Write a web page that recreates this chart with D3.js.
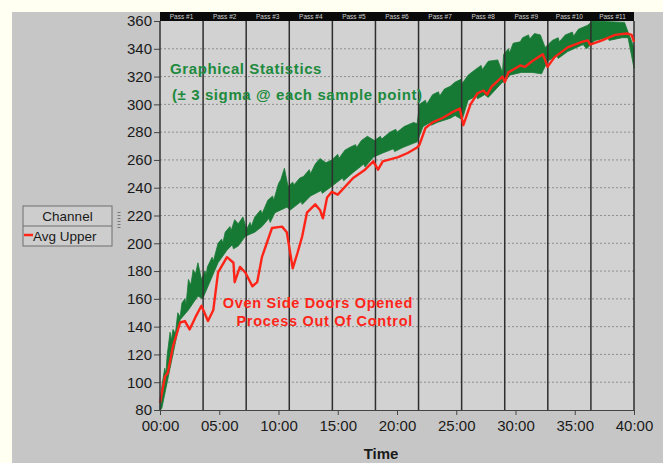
<!DOCTYPE html>
<html lang="en">
	<head>
		<meta charset="utf-8">
		<title>Graphical Statistics</title>
		<script src="https://cdnjs.cloudflare.com/ajax/libs/d3/7.8.5/d3.min.js"></script>
		<style type="text/css">
			body { margin: 0; background: #fffff2; }
			text { font-family: Arial, "Liberation Sans", sans-serif; }
			g.y text, g.x text { font-size: 15px; fill: #1a1a1a; }
			g.y path.domain { display: none; }
		</style>
	</head>
	<body>
		<div id="chart"></div>
		<script type="text/javascript">

			// pass labels along the top band
			const passLabels = ["Pass #1","Pass #2","Pass #3","Pass #4","Pass #5","Pass #6",
				"Pass #7","Pass #8","Pass #9","Pass #10","Pass #11"];

			const yTicks = [80,100,120,140,160,180,200,220,240,260,280,300,320,340,360];
			const xTicks = [0,5,10,15,20,25,30,35,40];

			// +3 sigma edge of the green band (minutes, value)
			const upperTime = [0,0.15,0.4,0.5,0.6,0.85,0.95,1.1,1.3,1.5,1.7,1.85,2.1,2.2,2.4,2.6,2.8,3.0,3.2,3.5,3.8,3.9,
				4.0,4.4,4.5,4.9,5.2,5.3,5.5,5.9,6.0,6.3,6.6,7.0,7.3,7.6,7.7,8.0,8.5,8.6,9.1,9.5,9.6,10.0,10.2,10.5,10.8,
				11.2,11.3,11.8,12.1,12.6,12.7,13.1,13.5,14.0,14.5,15.0,15.1,15.6,16.0,16.5,16.6,17.0,17.5,18.1,18.6,18.7,
				19.4,19.9,20.0,20.6,21.4,21.7,21.9,22.4,22.5,23.0,23.5,23.6,24.0,24.5,24.9,25.4,25.5,26.0,26.6,27.1,27.2,
				27.7,28.5,28.9,29.0,29.4,29.5,29.8,30.4,30.6,31.1,31.2,31.6,32.1,32.5,33.1,33.6,33.7,34.2,34.8,34.9,35.3,
				36.1,36.5,39.2,39.5,40.0];
			const upperVal = [82,97,110,106,119,136,130,138,135,150,147,157,160,156,174,170,181,178,186,174,180,177,
				183,190,187,200,203,200,208,212,209,217,214,219,210,215,212,219,224,221,231,234,231,243,246,254,241,
				244,242,247,248,253,250,257,261,258,260,264,261,267,269,271,269,274,277,274,277,275,
				280,282,280,284,287,286,300,303,300,307,309,306,311,313,316,318,315,321,325,328,325,
				331,332,323,336,340,337,344,345,348,350,347,351,350,341,346,348,345,350,352,349,354,
				357,360,359,352,341];

			// -3 sigma edge of the green band
			const lowerTime = [0,0.15,0.85,1.7,2.4,3.2,3.6,4.2,4.9,5.65,6.1,6.2,6.6,7.2,8.0,8.6,9.2,9.3,9.7,10.7,11.0,
				11.9,12.0,12.7,13.6,13.7,14.5,15.4,15.5,16.3,17.2,17.3,18.0,18.8,19.7,19.8,20.5,21.7,22.2,22.8,22.9,23.4,
				24.5,24.9,25.5,26.0,26.7,26.8,27.4,27.7,28.9,29.1,29.5,30.5,31.4,32.2,32.7,33.5,33.6,34.4,35.7,36.0,
				36.7,37.8,37.9,39.0,39.5,40.0];
			const lowerVal = [80,81,110,145,152,162,160,172,186,195,199,196,198,205,208,212,218,215,222,226,224,
				230,228,234,238,236,241,247,245,251,257,255,262,265,268,266,269,273,284,287,285,287,
				290,292,289,303,306,304,307,305,316,316,321,323,323,322,331,335,333,338,343,340,
				346,348,346,348,348,326];

			// Avg Upper channel
			const avgTime = [0,0.42,0.67,1.1,1.7,2.1,2.5,3.0,3.5,4.05,4.5,4.9,5.65,6.2,6.3,6.75,7.2,7.8,8.2,8.6,9.45,10.3,
				10.7,11.2,11.6,12.0,12.4,13.1,13.5,13.75,14.1,14.5,15.0,16.3,17.3,18.0,18.4,18.8,20.1,20.9,21.7,21.9,22.4,
				23.0,23.8,24.6,25.3,25.6,26.2,26.8,27.3,27.6,28.0,28.9,29.1,29.4,30.4,30.8,31.4,32.3,32.5,32.7,33.3,34.4,
				35.6,36.1,36.3,37.3,38.4,39.4,39.8,40.0];
			const avgVal = [85,104,107,126,143,144,138,147,155,144,152,179,190,186,172,183,179,169,172,190,211,212,
				208,182,193,205,222,228,224,218,233,237,235,247,253,259,253,259,262,265,269,271,283,
				287,290,294,297,285,300,308,310,307,313,320,316,323,328,327,331,336,332,327,334,341,
				345,346,343,346,350,351,350,345];

			const width = 663;
			const height = 463;
			const margin = {left:160, right:29, top:21, bottom:53};

			const svg = d3.select("#chart")
					.append("svg")
					.attr("width", width)
					.attr("height", height);

			// gray panel
			svg.append("rect")
					.attr("x", 12).attr("y", 12)
					.attr("width", width - 12).attr("height", height - 12)
					.attr("fill", "#c6c6c6");

			const xScale = d3.scaleLinear()
					.domain([0, 40])
					.range([margin.left, width - margin.right]);
			const yScale = d3.scaleLinear()
					.domain([80, 360])
					.range([height - margin.bottom, margin.top]);
			const passScale = d3.scaleBand()
					.domain(passLabels)
					.range([xScale(0), xScale(40)]);

			// plot background
			svg.append("rect")
					.attr("x", xScale(0)).attr("y", yScale(360))
					.attr("width", xScale(40) - xScale(0))
					.attr("height", yScale(80) - yScale(360))
					.attr("fill", "#d2d2d2");

			// dotted horizontal grid
			svg.append("g")
				.selectAll("line")
				.data(yTicks.slice(1, -1))
				.enter()
				.append("line")
					.attr("x1", xScale(0)).attr("x2", xScale(40))
					.attr("y1", d => yScale(d)).attr("y2", d => yScale(d))
					.attr("stroke", "#8f8f8f")
					.attr("stroke-dasharray", "2,2");

			// the green +/- 3 sigma band
			const upperPts = upperTime.map((t, i) => [t, upperVal[i]]);
			const lowerPts = lowerTime.map((t, i) => [t, lowerVal[i]]).reverse();
			const bandLine = d3.line()
					.x(d => xScale(d[0]))
					.y(d => yScale(d[1]));
			svg.append("path")
					.attr("d", bandLine(upperPts.concat(lowerPts)) + "Z")
					.attr("fill", "#177a34")
					.attr("stroke", "#177a34")
					.attr("stroke-width", 0.8)
					.attr("stroke-linejoin", "round");

			// pass boundaries
			svg.append("g")
				.selectAll("line")
				.data(passLabels)
				.enter()
				.append("line")
					.attr("x1", d => passScale(d) + passScale.bandwidth())
					.attr("x2", d => passScale(d) + passScale.bandwidth())
					.attr("y1", yScale(360)).attr("y2", yScale(80))
					.attr("stroke", "#2e2e2e")
					.attr("stroke-width", 1.5);

			// red avg line
			const avgLine = d3.line()
					.x((d, i) => xScale(avgTime[i]))
					.y(d => yScale(d));
			svg.append("path")
					.attr("d", avgLine(avgVal))
					.attr("fill", "none")
					.attr("stroke", "#ff2418")
					.attr("stroke-width", 2.4)
					.attr("stroke-linejoin", "round");

			// pass header band
			svg.append("rect")
					.attr("x", xScale(0)).attr("y", 12)
					.attr("width", xScale(40) - xScale(0)).attr("height", 9)
					.attr("fill", "#0a0a0a");
			svg.append("g")
				.selectAll("text")
				.data(passLabels)
				.enter()
				.append("text")
					.attr("x", d => passScale(d) + passScale.bandwidth() / 2)
					.attr("y", 19)
					.attr("text-anchor", "middle")
					.attr("font-size", "6.5px")
					.attr("fill", "#cfcfcf")
					.text(d => d);

			// axes
			const yAxis = d3.axisLeft(yScale).tickValues(yTicks).tickSize(6).tickPadding(2);
			svg.append("g")
					.attr("class", "axis y")
					.attr("transform", "translate(" + xScale(0) + ",0)")
					.call(yAxis);
			svg.select("g.y").selectAll("line").attr("stroke", "#444");

			const xAxis = d3.axisBottom(xScale)
					.tickValues(xTicks)
					.tickSize(5)
					.tickPadding(5)
					.tickFormat(d => d3.format("02")(d) + ":00");
			svg.append("g")
					.attr("class", "axis x")
					.attr("transform", "translate(0," + yScale(80) + ")")
					.call(xAxis);
			svg.select("g.x").selectAll("line, path").attr("stroke", "#444");

			// left axis line
			svg.append("line")
					.attr("x1", xScale(0)).attr("x2", xScale(0))
					.attr("y1", yScale(360)).attr("y2", yScale(80))
					.attr("stroke", "#333").attr("stroke-width", 1.5);

			svg.append("text")
					.attr("x", 381).attr("y", 459)
					.attr("text-anchor", "middle")
					.attr("font-size", "15px")
					.attr("font-weight", "bold")
					.attr("fill", "#1a1a1a")
					.text("Time");

			// annotations
			svg.append("text")
					.attr("x", 170).attr("y", 74)
					.attr("font-size", "15px").attr("font-weight", "bold")
					.attr("letter-spacing", "0.6px")
					.attr("fill", "#1d8a3d")
					.text("Graphical Statistics");
			svg.append("text")
					.attr("x", 172).attr("y", 100)
					.attr("font-size", "15px").attr("font-weight", "bold")
					.attr("letter-spacing", "0.6px")
					.attr("fill", "#1d8a3d")
					.text("(\u00b1 3 sigma @ each sample point)");
			svg.append("text")
					.attr("x", 413).attr("y", 308)
					.attr("text-anchor", "end")
					.attr("font-size", "14.5px").attr("font-weight", "bold")
					.attr("letter-spacing", "0.7px")
					.attr("fill", "#ff2418")
					.text("Oven Side Doors Opened");
			svg.append("text")
					.attr("x", 413).attr("y", 326)
					.attr("text-anchor", "end")
					.attr("font-size", "14.5px").attr("font-weight", "bold")
					.attr("letter-spacing", "0.7px")
					.attr("fill", "#ff2418")
					.text("Process Out Of Control");

			// legend
			const legend = svg.append("g").attr("transform", "translate(23,206)");
			legend.append("rect")
					.attr("width", 89).attr("height", 40)
					.attr("fill", "#cdcdcd")
					.attr("stroke", "#6f6f6f");
			legend.append("line")
					.attr("x1", 0).attr("x2", 89).attr("y1", 20).attr("y2", 20)
					.attr("stroke", "#6f6f6f");
			legend.append("text")
					.attr("x", 44.5).attr("y", 15)
					.attr("text-anchor", "middle")
					.attr("font-size", "13.5px")
					.attr("fill", "#1a1a1a")
					.text("Channel");
			legend.append("line")
					.attr("x1", 1).attr("x2", 10).attr("y1", 29).attr("y2", 29)
					.attr("stroke", "#ff2418").attr("stroke-width", 2.5);
			legend.append("text")
					.attr("x", 10).attr("y", 35)
					.attr("font-size", "13.5px")
					.attr("fill", "#1a1a1a")
					.text("Avg Upper");
			legend.append("line")
					.attr("x1", 96).attr("x2", 96).attr("y1", 6).attr("y2", 22)
					.attr("stroke", "#777").attr("stroke-width", 3)
					.attr("stroke-dasharray", "1,2");

		</script>
	</body>
</html>
